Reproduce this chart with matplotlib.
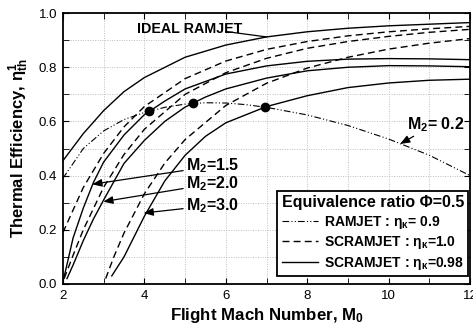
import matplotlib
matplotlib.use("Agg")
import matplotlib.pyplot as plt
from matplotlib.lines import Line2D

plt.rcParams["font.family"] = ["Liberation Sans", "DejaVu Sans"]
plt.rcParams["mathtext.fontset"] = "custom"
plt.rcParams["mathtext.rm"] = "Liberation Sans:bold"
plt.rcParams["mathtext.it"] = "Liberation Sans:bold"
plt.rcParams["mathtext.bf"] = "Liberation Sans:bold"
plt.rcParams["mathtext.default"] = "rm"

# Ideal ramjet
ideal_x = [2.0, 2.5, 3.0, 3.5, 4.0, 5.0, 6.0, 7.0, 8.0, 9.0, 10.0, 11.0, 12.0]
ideal_y = [0.455, 0.555, 0.64, 0.71, 0.762, 0.837, 0.882, 0.912, 0.931, 0.944, 0.953, 0.959, 0.965]

# Scramjet, kinetic energy efficiency 1.0 (dashed)
scr10_15_x = [2.0, 2.5, 3.0, 3.5, 4.0, 5.0, 6.0, 7.0, 8.0, 9.0, 10.0, 11.0, 12.0]
scr10_15_y = [0.19, 0.356, 0.482, 0.58, 0.655, 0.758, 0.823, 0.866, 0.895, 0.916, 0.931, 0.942, 0.951]
scr10_20_x = [2.03, 2.25, 2.5, 3.0, 3.5, 4.0, 5.0, 6.0, 7.0, 8.0, 9.0, 10.0, 11.0, 12.0]
scr10_20_y = [0.02, 0.106, 0.2, 0.357, 0.478, 0.571, 0.70, 0.78, 0.833, 0.870, 0.895, 0.914, 0.929, 0.940]
scr10_30_x = [3.05, 3.25, 3.5, 4.0, 4.5, 5.0, 6.0, 7.0, 8.0, 9.0, 10.0, 11.0, 12.0]
scr10_30_y = [0.02, 0.10, 0.188, 0.333, 0.446, 0.533, 0.659, 0.741, 0.797, 0.837, 0.867, 0.889, 0.906]

# Scramjet, kinetic energy efficiency 0.98 (solid)
scr98_15_x = [2.02, 2.25, 2.5, 2.75, 3.0, 3.5, 4.0, 4.5, 5.0, 6.0, 7.0, 8.0, 9.0, 10.0, 11.0, 12.0]
scr98_15_y = [0.02, 0.17, 0.28, 0.375, 0.45, 0.55, 0.625, 0.675, 0.72, 0.775, 0.805, 0.822, 0.83, 0.832, 0.831, 0.828]
scr98_20_x = [2.1, 2.25, 2.5, 2.75, 3.0, 3.5, 4.0, 4.5, 5.0, 5.5, 6.0, 7.0, 8.0, 9.0, 10.0, 11.0, 12.0]
scr98_20_y = [0.02, 0.07, 0.16, 0.24, 0.31, 0.445, 0.53, 0.60, 0.653, 0.69, 0.72, 0.76, 0.787, 0.80, 0.806, 0.805, 0.802]
scr98_30_x = [3.2, 3.5, 4.0, 4.5, 5.0, 5.5, 6.0, 7.0, 8.0, 9.0, 10.0, 11.0, 12.0]
scr98_30_y = [0.03, 0.10, 0.25, 0.38, 0.475, 0.545, 0.595, 0.655, 0.695, 0.725, 0.742, 0.752, 0.756]

# Ramjet, kinetic energy efficiency 0.9, M2 = 0.2 (dash-dot)
ram_x = [2.0, 2.5, 3.0, 3.5, 4.0, 4.5, 5.0, 5.5, 6.0, 6.5, 7.0, 8.0, 9.0, 10.0, 11.0, 12.0]
ram_y = [0.39, 0.50, 0.565, 0.607, 0.633, 0.652, 0.664, 0.669, 0.668, 0.662, 0.652, 0.624, 0.585, 0.535, 0.475, 0.40]

# Ramjet / scramjet crossover points
cross_x = [4.12, 5.19, 6.96]
cross_y = [0.638, 0.668, 0.654]

x_ticks = [2, 4, 6, 8, 10, 12]
y_ticks = [0.0, 0.2, 0.4, 0.6, 0.8, 1.0]

fig = plt.figure(figsize=(4.73, 3.27), dpi=100)
ax = fig.add_axes([0.133, 0.1315, 0.861, 0.8285])

dashed = (0, (5, 3))
dashdot = (0, (6, 2, 1, 2, 1, 2))
lw = 1.0

ax.plot(ideal_x, ideal_y, color="black", lw=lw)
for xs, ys in [(scr98_15_x, scr98_15_y), (scr98_20_x, scr98_20_y), (scr98_30_x, scr98_30_y)]:
    ax.plot(xs, ys, color="black", lw=lw)
for xs, ys in [(scr10_15_x, scr10_15_y), (scr10_20_x, scr10_20_y), (scr10_30_x, scr10_30_y)]:
    ax.plot(xs, ys, color="black", lw=lw, linestyle=dashed)
ax.plot(ram_x, ram_y, color="black", lw=0.8, linestyle=dashdot)
ax.plot(cross_x, cross_y, "o", color="black", markersize=6, zorder=5)

ax.set_xlim(2, 12)
ax.set_ylim(0, 1.0)
ax.set_xticks(x_ticks)
ax.set_yticks(y_ticks)
ax.set_xticklabels([str(t) for t in x_ticks])
ax.set_yticklabels([f"{t:.1f}" for t in y_ticks])
ax.set_xticks(range(2, 13), minor=True)
ax.set_yticks([i / 10 for i in range(11)], minor=True)
ax.tick_params(which="both", direction="in", top=True, right=True, labelsize=9.5, length=4)
ax.tick_params(which="major", pad=4)
ax.grid(which="both", color="#bdbdbd", linestyle=(0, (1, 1.5)), linewidth=0.7)
ax.set_axisbelow(True)
for sp in ax.spines.values():
    sp.set_linewidth(1.3)

ax.set_xlabel("Flight Mach Number, M$_{0}$", fontsize=12.2, fontweight="bold", labelpad=3)
ax.set_ylabel("Thermal Efficiency, $η_{th}^{1}$", fontsize=12, fontweight="bold", labelpad=6)

tkw = dict(fontsize=11.5, fontweight="bold")
ax.text(3.82, 0.94, "IDEAL RAMJET", fontsize=10.3, fontweight="bold", va="center", ha="left")
ax.annotate("", xy=(7.0, 0.912), xytext=(6.0, 0.932),
            arrowprops=dict(arrowstyle="-", color="black", lw=0.9, shrinkA=0, shrinkB=0))

arrow = dict(arrowstyle="-|>,head_length=0.5,head_width=0.2", color="black", lw=0.9,
             shrinkA=0, shrinkB=0)
ax.annotate("M$_2$=1.5", xy=(2.72, 0.368), xytext=(5.02, 0.435), va="center", ha="left", **tkw,
            arrowprops=arrow)
ax.annotate("M$_2$=2.0", xy=(2.99, 0.304), xytext=(5.02, 0.37), va="center", ha="left", **tkw,
            arrowprops=arrow)
ax.annotate("M$_2$=3.0", xy=(3.98, 0.262), xytext=(5.02, 0.29), va="center", ha="left", **tkw,
            arrowprops=arrow)
ax.annotate("M$_2$= 0.2", xy=(10.28, 0.517), xytext=(10.45, 0.59), va="center", ha="left", **tkw,
            arrowprops=dict(arrow, relpos=(0.2, 0.0)))

handles = [
    Line2D([], [], color="black", lw=0.8, linestyle=dashdot),
    Line2D([], [], color="black", lw=lw, linestyle=dashed),
    Line2D([], [], color="black", lw=lw),
]
labels = [
    "RAMJET : $η_κ$= 0.9",
    "SCRAMJET : $η_κ$=1.0",
    "SCRAMJET : $η_κ$=0.98",
]
leg = ax.legend(handles, labels, title="Equivalence ratio Φ=0.5", loc="lower right",
                bbox_to_anchor=(0.995, 0.03), borderaxespad=0, frameon=True, fancybox=False,
                edgecolor="black", framealpha=1, borderpad=0.3, labelspacing=0.25,
                handlelength=2.6, handletextpad=0.4, prop=dict(weight="bold", size=10))
leg.get_title().set_fontweight("bold")
leg.get_title().set_fontsize(11.5)
leg.get_frame().set_linewidth(1.3)

fig.savefig("out.png", dpi=100)
